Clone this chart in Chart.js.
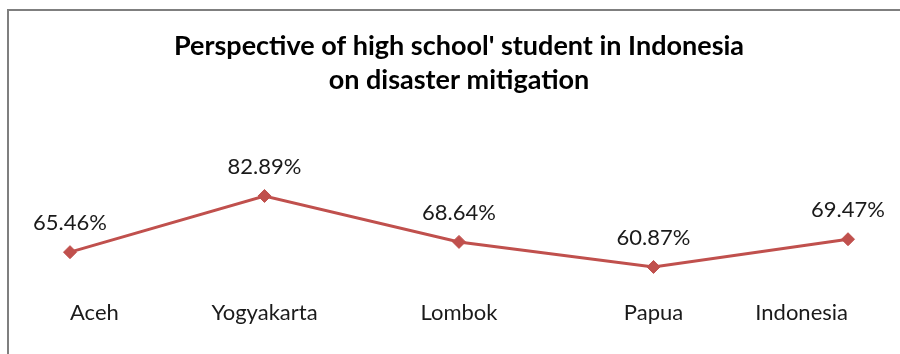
<!DOCTYPE html>
<html>
<head>
<meta charset="utf-8">
<script src="https://cdn.jsdelivr.net/npm/chart.js@4"></script>
<style>
    body { margin: 0; background: #fff; }
    #wrap { position: relative; width: 900px; height: 354px; overflow: hidden; }
    #frame { position: absolute; left: 7px; top: 9px; width: 950px; height: 400px; border: 2px solid #7f7f7f; }
    #chart { position: absolute; left: 0; top: 0; }
</style>
</head>
<body>
<div id="wrap">
    <div id="frame"></div>
    <canvas id="chart" width="900" height="354"></canvas>
</div>
<script>
// 地域ごとの割合データ
const regions = ["Aceh", "Yogyakarta", "Lombok", "Papua", "Indonesia"];
const percentages = [65.46, 82.89, 68.64, 60.87, 69.47];
const titleLines = ["Perspective of high school' student in Indonesia", "on disaster mitigation"];

const lineColor = "#C0504D";
const fontFamily = "Lato, 'Open Sans', sans-serif";

// 各点の上に値を表示するプラグイン
const valueLabels = {
    id: "valueLabels",
    afterDatasetsDraw(chart) {
        const ctx = chart.ctx;
        const meta = chart.getDatasetMeta(0);
        ctx.save();
        ctx.font = "22px " + fontFamily;
        ctx.fillStyle = "#1a1a1a";
        ctx.textAlign = "center";
        ctx.textBaseline = "middle";
        meta.data.forEach((pt, i) => {
            ctx.fillText(percentages[i].toFixed(2) + "%", pt.x, pt.y - 29);
        });
        ctx.restore();
    }
};

const ctx = document.getElementById("chart").getContext("2d");
new Chart(ctx, {
    type: "line",
    data: {
        labels: regions,
        datasets: [{
            data: percentages,
            borderColor: lineColor,
            backgroundColor: lineColor,
            borderWidth: 3,
            pointStyle: "rectRot",
            pointRadius: 6.5,
            pointBorderWidth: 1,
            tension: 0,
        }],
    },
    options: {
        responsive: false,
        animation: false,
        layout: {
            padding: { top: 29, left: 70, right: 52, bottom: 30 },
        },
        scales: {
            x: {
                offset: false,
                grid: { display: false, drawTicks: false, tickLength: 0 },
                border: { display: false },
                ticks: {
                    padding: 0,
                    align: "inner",
                    color: "#1a1a1a",
                    font: { family: fontFamily, size: 22, lineHeight: 1 },
                    maxRotation: 0,
                    autoSkip: false,
                },
            },
            y: {
                display: false,
                min: 50,
                max: 90,
            },
        },
        plugins: {
            legend: { display: false },
            tooltip: { enabled: false },
            title: {
                display: true,
                text: titleLines,
                color: "#000",
                font: { family: fontFamily, size: 27, weight: "bold", lineHeight: 1.26 },
                padding: { top: 0, bottom: 76 },
            },
        },
    },
    plugins: [valueLabels],
});
</script>
</body>
</html>
